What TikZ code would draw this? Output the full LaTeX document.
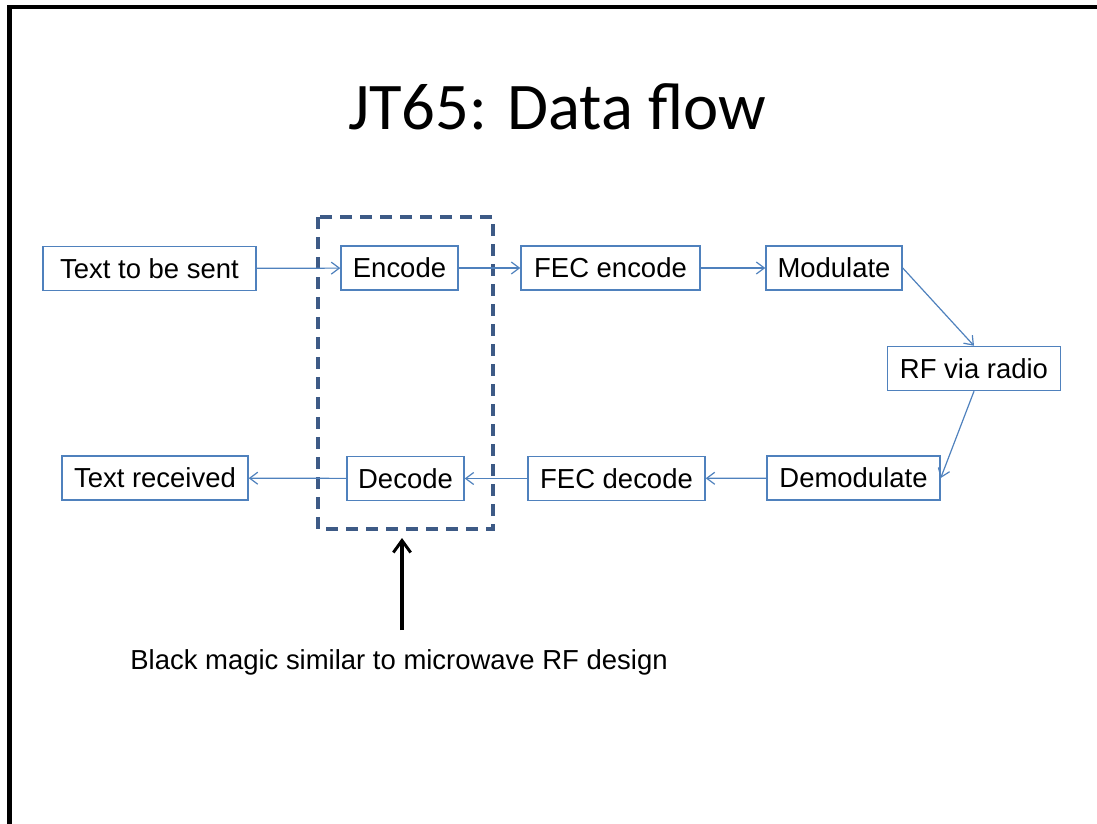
\documentclass[tikz,border=0pt]{standalone}
\usepackage{fontspec}
\setmainfont{Liberation Sans}
\newfontfamily\titlefont{Carlito}
\usetikzlibrary{arrows.meta}
\definecolor{boxblue}{HTML}{4F81BD}
\definecolor{dashblue}{HTML}{3D5A86}
\tikzset{
  flowbox/.style={draw=boxblue, line width=1.1pt, fill=white, inner sep=0pt,
    font=\fontsize{20.6pt}{24pt}\selectfont, text=black, minimum height=33pt},
  flowarrow/.style={draw=boxblue, line width=0.9pt, -{Straight Barb[length=6pt,width=9pt,line width=0.9pt]}},
}
\begin{document}
\begin{tikzpicture}[x=0.75pt,y=-0.75pt]
\useasboundingbox (0,0) rectangle (1097,824);
% slide border
\draw[black, line width=3.5pt] (9.5,824) -- (9.5,7) -- (1097,7);
% title
\node[font=\titlefont\fontsize{50pt}{60pt}\selectfont, anchor=base] (title) at (557,130) {JT65: Data flow};
% dashed box
\draw[dashblue, line width=2.3pt, dash pattern=on 9pt off 6pt] (318,217) rectangle (493,529);
% boxes
\node[flowbox, minimum width=160pt] (tbs) at (149.5,268.5) {Text to be sent};
\node[flowbox, minimum width=87.75pt] (enc) at (399.5,268) {Encode};
\node[flowbox, minimum width=134.25pt] (fece) at (610.5,268) {FEC encode};
\node[flowbox, minimum width=102pt] (mod) at (834,268) {Modulate};
\node[flowbox, minimum width=129.75pt] (rf) at (974,368.5) {RF via radio};
\node[flowbox, minimum width=129.75pt] (demod) at (853.5,478) {Demodulate};
\node[flowbox, minimum width=132.75pt] (fecd) at (616.5,478.5) {FEC decode};
\node[flowbox, minimum width=87.75pt] (dec) at (405.5,478.5) {Decode};
\node[flowbox, minimum width=139.5pt] (trx) at (155,478) {Text received};
% connectors
\draw[flowarrow] (tbs) -- (enc);
\draw[flowarrow] (enc) -- (fece);
\draw[flowarrow] (fece) -- (mod);
\draw[flowarrow] (mod.east) -- (rf.north);
\draw[flowarrow] (rf.south) -- (demod.east);
\draw[flowarrow] (demod) -- (fecd);
\draw[flowarrow] (fecd) -- (dec);
\draw[flowarrow] (dec) -- (trx);
% annotation
\node[font=\fontsize{20.6pt}{24pt}\selectfont, anchor=base] (cap) at (399,669) {Black magic similar to microwave RF design};
\coordinate (tail) at (402,630);
\coordinate (tip) at (402,538);
\draw[black, line width=2.4pt, -{Straight Barb[length=9pt,width=13pt,line width=2.2pt]}] (tail) -- (tip);
\end{tikzpicture}
\end{document}
